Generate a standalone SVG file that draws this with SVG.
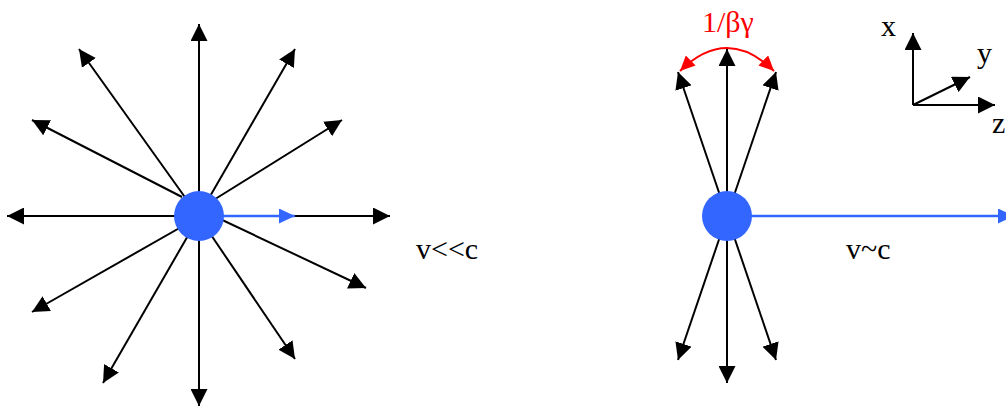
<svg xmlns="http://www.w3.org/2000/svg" width="1006" height="407" viewBox="0 0 1006 407">
<style>
.ln{stroke:#000;stroke-width:2;fill:none;marker-end:url(#ah)}
.bl{stroke:#3366FF;stroke-width:2.5;fill:none;marker-end:url(#ahb)}
.lbl{font-family:'Liberation Serif','Times New Roman',serif;font-size:30px;fill:#000}
.dot{fill:#3366FF}
</style>
<defs>
<marker id="ah" markerUnits="userSpaceOnUse" markerWidth="17" markerHeight="17" refX="17" refY="8.5" orient="auto"><path d="M0,0 L17,8.5 L0,17 z" fill="#000"/></marker>
<marker id="ahb" markerUnits="userSpaceOnUse" markerWidth="16" markerHeight="16" refX="16" refY="7.5" orient="auto"><path d="M0,0 L16,7.5 L0,15 z" fill="#3366FF"/></marker>
<marker id="ahr" markerUnits="userSpaceOnUse" markerWidth="15" markerHeight="14" refX="15" refY="7" orient="auto-start-reverse"><path d="M0,0 L15,7 L0,14 z" fill="#FF0000"/></marker>
</defs>
<g id="connectors">
<line class="ln" x1="199" y1="216" x2="199" y2="24"/>
<line class="ln" x1="199" y1="216" x2="199" y2="406"/>
<line class="ln" x1="199" y1="216" x2="7" y2="216"/>
<line class="ln" x1="199" y1="216" x2="390" y2="216"/>
<line class="ln" x1="197" y1="214" x2="79" y2="49"/>
<line class="ln" x1="182" y1="197" x2="32" y2="120"/>
<line class="ln" x1="205" y1="205" x2="295" y2="49"/>
<line class="ln" x1="212" y1="201" x2="342" y2="120"/>
<line class="ln" x1="218" y1="218" x2="366" y2="288"/>
<line class="ln" x1="205" y1="226" x2="295" y2="359"/>
<line class="ln" x1="193" y1="227" x2="103" y2="383"/>
<line class="ln" x1="190" y1="222" x2="32" y2="312"/>
<line class="bl" x1="199" y1="216" x2="295" y2="216"/>
<line class="ln" x1="727" y1="216" x2="727" y2="49"/>
<line class="ln" x1="727" y1="216" x2="678" y2="72"/>
<line class="ln" x1="727" y1="216" x2="776" y2="72"/>
<line class="ln" x1="727" y1="216" x2="727" y2="383"/>
<line class="ln" x1="727" y1="216" x2="678" y2="360"/>
<line class="ln" x1="727" y1="216" x2="776" y2="360"/>
<line class="bl" x1="727" y1="216" x2="1014" y2="216"/>
<path d="M680,71 Q727,25 774,71" stroke="#FF0000" stroke-width="2" fill="none" marker-start="url(#ahr)" marker-end="url(#ahr)"/>
<line class="ln" x1="913" y1="105" x2="913" y2="33"/>
<line class="ln" x1="913" y1="105" x2="995" y2="105"/>
<line class="ln" x1="913" y1="105" x2="970" y2="77"/>
</g>
<g id="particle-slow"><circle class="dot" cx="199" cy="216" r="25"/></g>
<g id="particle-fast"><circle class="dot" cx="727" cy="216" r="25"/></g>
<g id="label-slow"><text class="lbl" x="416" y="259" font-family="Liberation Serif, serif">v&lt;&lt;c</text></g>
<g id="label-fast"><text class="lbl" x="846" y="259" font-family="Liberation Serif, serif">v~c</text></g>
<g id="label-angle"><text class="lbl" x="702" y="32" font-family="Liberation Serif, serif" style="fill:#FF0000">1/βγ</text></g>
<g id="axes-labels" font-family="Liberation Serif, serif">
<text class="lbl" x="881" y="36">x</text>
<text class="lbl" x="977" y="63">y</text>
<text class="lbl" x="992" y="133">z</text>
</g>
</svg>
